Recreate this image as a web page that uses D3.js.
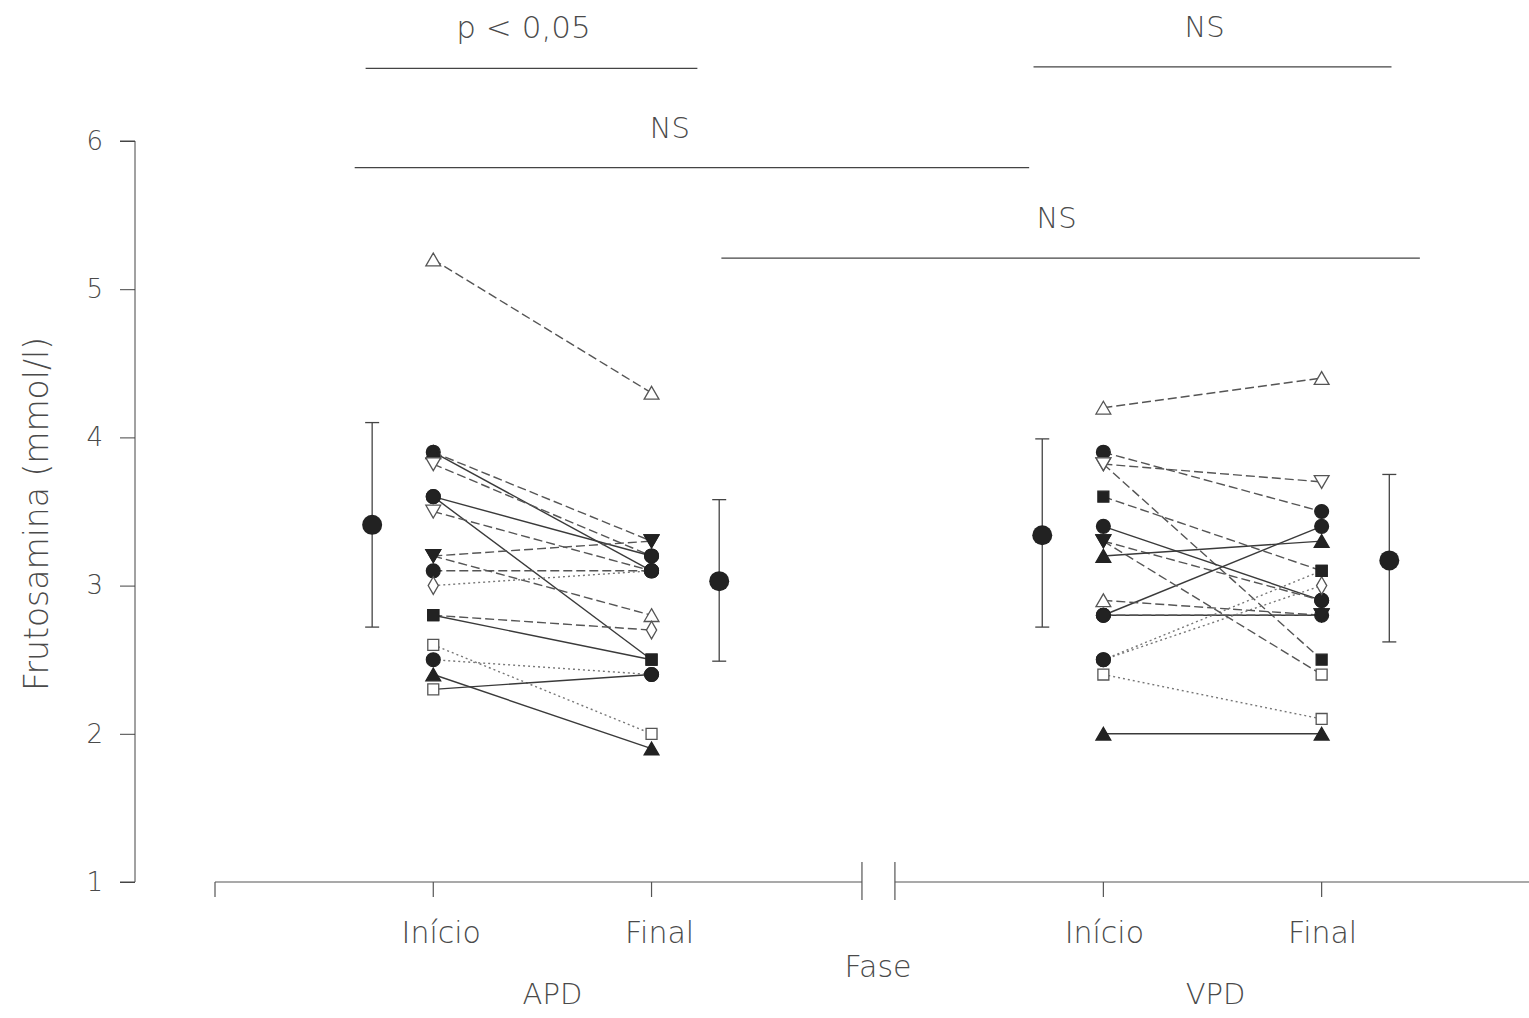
<!DOCTYPE html>
<html>
<head>
<meta charset="utf-8">
<script src="https://cdn.jsdelivr.net/npm/d3@7"></script>
<style>
  body { margin: 0; background: #fff; }
  text { font-family: "DejaVu Sans", sans-serif; font-weight: 200; fill: #4a4a4a; }
</style>
</head>
<body>
<svg id="chart" width="1529" height="1018"></svg>
<script>
  var width = 1529, height = 1018

  // y axis ticks, x axis categories
  var yTicks = [1, 2, 3, 4, 5, 6]
  var phases = ["Início", "Final"]
  var groups = ["APD", "VPD"]

  // APD individual values (start -> end), markers and line style
  var apdStart = [5.2, 3.9, 3.9, 3.82, 3.6, 3.6, 3.5, 3.2, 3.2, 3.1, 3.0, 2.8, 2.8, 2.6, 2.5, 2.4, 2.3]
  var apdEnd   = [4.3, 3.1, 3.3, 3.2, 3.2, 2.5, 3.1, 3.3, 2.8, 3.1, 3.1, 2.7, 2.5, 2.0, 2.4, 1.9, 2.4]
  var apdSymStart = ["triO","cirF","triF","invO","cirF","cirF","invO","invF","invF","cirF","diaO","sqF","sqF","sqO","cirF","triF","sqO"]
  var apdSymEnd   = ["triO","cirF","invF","cirF","cirF","sqF","cirF","invF","triO","cirF","cirF","diaO","sqF","sqO","cirF","triF","cirF"]
  var apdLine = ["dash","solid","dash","dash","solid","solid","dash","dash","dash","dash","dot","dash","solid","dot","dot","solid","solid"]

  // VPD individual values
  var vpdStart = [4.2, 3.9, 3.82, 3.82, 3.6, 3.4, 3.3, 3.2, 2.8, 2.9, 2.8, 2.8, 2.5, 2.5, 2.4, 2.0, 3.3]
  var vpdEnd   = [4.4, 3.5, 3.7, 2.5, 3.1, 2.9, 2.9, 3.3, 3.4, 2.8, 2.8, 2.8, 3.0, 3.1, 2.1, 2.0, 2.4]
  var vpdSymStart = ["triO","cirF","invO","invO","sqF","cirF","invF","triF","cirF","triO","cirF","cirF","cirF","cirF","sqO","triF","invF"]
  var vpdSymEnd   = ["triO","cirF","invO","sqF","sqF","cirF","cirF","triF","cirF","invF","cirF","invF","diaO","sqF","sqO","triF","sqO"]
  var vpdLine = ["dash","dash","dash","dash","dash","solid","dash","solid","solid","dash","solid","dash","dot","dot","dot","solid","dash"]

  // group means and error bar limits: APD Início, APD Final, VPD Início, VPD Final
  var meanValues = [3.41, 3.03, 3.34, 3.17]
  var barLow  = [2.72, 2.49, 2.72, 2.62]
  var barHigh = [4.10, 3.58, 3.99, 3.75]

  // significance brackets (level on the y scale, extent on the x scale)
  var sigLabels = ["p < 0,05", "NS", "NS", "NS"]
  var sigLevel  = [6.49, 6.50, 5.82, 5.21]
  var sigFrom   = [0.69, 3.75, 0.64, 2.32]
  var sigTo     = [2.21, 5.39, 3.73, 5.52]

  var svg = d3.select("#chart")
  svg.append("rect").attr("width", width).attr("height", height).attr("fill", "#fff")

  var y = d3.scaleLinear().domain([1, 6]).range([882, 141])
  var x = d3.scaleLinear().domain([0, 6.02]).range([215, 1529])
  var groupBase = { APD: 0, VPD: 3.07 }
  function px(g, phase) { return x(groupBase[g] + 1 + phases.indexOf(phase)) }
  function meanX(i) {
    var g = groups[Math.floor(i / 2)], ph = i % 2
    return x(groupBase[g] + 1 + ph + (ph ? 0.31 : -0.28))
  }

  // y axis
  var yAxis = d3.axisLeft(y).tickValues(yTicks).tickFormat(d3.format("d")).tickSize(15).tickPadding(17)
  var ya = svg.append("g").attr("transform", "translate(135,0)").call(yAxis)
  ya.select(".domain").attr("stroke", "#444").attr("d", "M-15,141H0V882H-15")
  ya.selectAll(".tick line").attr("stroke", "#444")
  ya.selectAll(".tick text").style("font-size", "26px").attr("fill", "#555")
    .style("font-family", "'DejaVu Sans', sans-serif").style("font-weight", 200)

  svg.append("text")
    .attr("transform", "translate(48,514) rotate(-90)")
    .attr("text-anchor", "middle")
    .style("font-size", "33px")
    .text("Frutosamina (mmol/l)")

  // x axis with break
  var xa = svg.append("g").attr("stroke", "#555").attr("stroke-width", 1.2)
  xa.append("line").attr("x1", x(0)).attr("x2", x(2.964)).attr("y1", y(1)).attr("y2", y(1))
  xa.append("line").attr("x1", x(3.115)).attr("x2", x(6.02)).attr("y1", y(1)).attr("y2", y(1))
  ;[2.964, 3.115].forEach(function(b) {
    xa.append("line").attr("x1", x(b)).attr("x2", x(b)).attr("y1", y(1) - 20).attr("y2", y(1) + 18)
  })
  var tickPos = [x(0)]
  groups.forEach(function(g) { phases.forEach(function(p) { tickPos.push(px(g, p)) }) })
  tickPos.forEach(function(t) {
    xa.append("line").attr("x1", t).attr("x2", t).attr("y1", y(1)).attr("y2", y(1) + 15)
  })
  groups.forEach(function(g) {
    var shift = g === "APD" ? 8 : 1
    phases.forEach(function(p) {
      svg.append("text").attr("x", px(g, p) + shift).attr("y", 943)
        .attr("text-anchor", "middle").style("font-size", "30px").text(p)
    })
    svg.append("text").attr("x", (px(g, "Início") + px(g, "Final")) / 2 + shift + 2).attr("y", 1004)
      .attr("text-anchor", "middle").style("font-size", "29px").text(g)
  })
  svg.append("text").attr("x", 878).attr("y", 977).attr("text-anchor", "middle")
    .style("font-size", "30px").text("Fase")

  // markers
  var symbols = {
    cir: d3.symbol().type(d3.symbolCircle).size(150),
    sq: d3.symbol().type(d3.symbolSquare).size(120),
    tri: d3.symbol().type(d3.symbolTriangle).size(95),
    inv: d3.symbol().type(d3.symbolTriangle).size(95),
    dia: d3.symbol().type(d3.symbolDiamond).size(90)
  }
  var dashes = { solid: null, dash: "9,4", dot: "2,3" }
  var lineColor = { solid: "#3a3a3a", dash: "#555", dot: "#777" }

  function drawGroup(g, s, e, ss, se, ls) {
    var gl = svg.append("g")
    var gm = svg.append("g")
    var x0 = px(g, "Início"), x1 = px(g, "Final")
    s.forEach(function(v, i) {
      gl.append("line")
        .attr("x1", x0).attr("y1", y(v)).attr("x2", x1).attr("y2", y(e[i]))
        .attr("stroke", lineColor[ls[i]]).attr("stroke-width", 1.4)
        .attr("stroke-dasharray", dashes[ls[i]])
    })
    function mark(cx, v, code) {
      var kind = code.slice(0, -1), filled = code.slice(-1) === "F"
      var dy = kind === "tri" ? 2 : kind === "inv" ? -2 : 0
      gm.append("path")
        .attr("d", symbols[kind]())
        .attr("transform", "translate(" + cx + "," + (y(v) + dy) + ")" + (kind === "inv" ? " rotate(180)" : ""))
        .attr("fill", filled ? "#222" : "#fff")
        .attr("stroke", filled ? "#222" : "#555")
        .attr("stroke-width", 1.3)
    }
    s.forEach(function(v, i) { mark(x0, v, ss[i]) })
    e.forEach(function(v, i) { mark(x1, v, se[i]) })
  }
  drawGroup("APD", apdStart, apdEnd, apdSymStart, apdSymEnd, apdLine)
  drawGroup("VPD", vpdStart, vpdEnd, vpdSymStart, vpdSymEnd, vpdLine)

  // means with error bars
  var mg = svg.append("g")
  meanValues.forEach(function(m, i) {
    var cx = meanX(i)
    mg.append("line").attr("x1", cx).attr("x2", cx).attr("y1", y(barLow[i])).attr("y2", y(barHigh[i]))
      .attr("stroke", "#444").attr("stroke-width", 1.3)
    ;[barLow[i], barHigh[i]].forEach(function(v) {
      mg.append("line").attr("x1", cx - 7).attr("x2", cx + 7).attr("y1", y(v)).attr("y2", y(v))
        .attr("stroke", "#444").attr("stroke-width", 1.3)
    })
    mg.append("circle").attr("cx", cx).attr("cy", y(m)).attr("r", 10).attr("fill", "#222")
  })

  // significance brackets
  sigLabels.forEach(function(lab, i) {
    var a = x(sigFrom[i]), b = x(sigTo[i])
    svg.append("line").attr("x1", a).attr("x2", b).attr("y1", y(sigLevel[i])).attr("y2", y(sigLevel[i]))
      .attr("stroke", "#444").attr("stroke-width", 1.3)
    svg.append("text").attr("x", (a + b) / 2 - (i === 2 ? 22 : i === 3 ? 14 : 8)).attr("y", y(sigLevel[i]) - 30)
      .attr("text-anchor", "middle").style("font-size", lab === "NS" ? "29px" : "31px").text(lab)
  })
</script>
</body>
</html>
